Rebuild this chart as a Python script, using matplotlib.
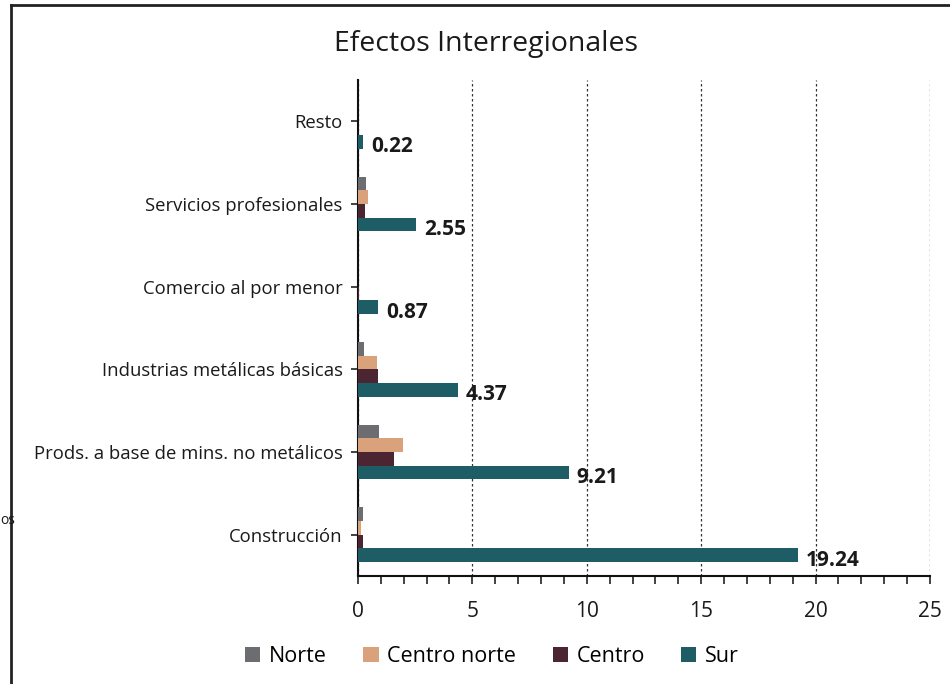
import matplotlib
matplotlib.use("Agg")
import matplotlib.pyplot as plt
from matplotlib.lines import Line2D
from matplotlib.ticker import MultipleLocator
import numpy as np

plt.rcParams['font.family'] = ['Open Sans', 'DejaVu Sans']

categories = ["Construcción", "Prods. a base de mins. no metálicos",
              "Industrias metálicas básicas", "Comercio al por menor",
              "Servicios profesionales", "Resto"]
series_names = ["Norte", "Centro norte", "Centro", "Sur"]
norte = [0.20, 0.93, 0.26, 0.0, 0.35, 0.0]
centro_norte = [0.15, 1.97, 0.84, 0.0, 0.42, 0.0]
centro = [0.20, 1.57, 0.89, 0.05, 0.30, 0.0]
sur = [19.24, 9.21, 4.37, 0.87, 2.55, 0.22]
colors = ["#6b6d70", "#d9a27a", "#4b2532", "#1e5c66"]
xticks = [0, 5, 10, 15, 20, 25]

fig = plt.figure(figsize=(9.5, 6.84), dpi=100)
ax = fig.add_axes([0.3768, 0.158, 0.6021, 0.725])

y = np.arange(len(categories))
h = 0.165
offsets = [1.5 * h, 0.5 * h, -0.5 * h, -1.5 * h]
for vals, name, col, off in zip([norte, centro_norte, centro, sur], series_names, colors, offsets):
    ax.barh(y + off, vals, height=h, color=col, label=name, zorder=3)

for yi, v in zip(y, sur):
    ax.text(v + 0.35, yi + offsets[3] - 0.06, f"{v:.2f}", va="center", ha="left",
            fontsize=15, fontweight="bold", color="#1a1a1a", zorder=4)

ax.set_ylim(-0.5, len(categories) - 0.5)
ax.set_xlim(0, 25)
ax.set_yticks(y)
ax.set_yticklabels(categories, fontsize=13.3, color="#1a1a1a")
ax.set_xticks(xticks)
ax.set_xticklabels([str(t) for t in xticks], fontsize=15, color="#1a1a1a")
ax.xaxis.set_minor_locator(MultipleLocator(1))
ax.tick_params(axis="x", which="both", direction="out", length=6, width=1.2, color="#222222", pad=12)
ax.tick_params(axis="y", direction="out", length=5, width=1.2, color="#222222", pad=6)

ax.grid(axis="x", which="major", linestyle=(0, (2, 2)), color="#333333", linewidth=0.9, zorder=0)
for s in ["top", "right"]:
    ax.spines[s].set_visible(False)
for s in ["left", "bottom"]:
    ax.spines[s].set_linewidth(1.5)
    ax.spines[s].set_color("#111111")

fig.text(0.512, 0.935, "Efectos Interregionales", ha="center", va="center", fontsize=20.5, color="#1a1a1a")

leg = fig.legend(loc="center", bbox_to_anchor=(0.518, 0.04), ncol=4, frameon=False,
                 fontsize=15.5, handlelength=0.7, handleheight=0.7, handletextpad=0.4,
                 columnspacing=1.7)

# outer frame lines
fig.add_artist(Line2D([11 / 950, 11 / 950], [0, 1 - 5 / 684], transform=fig.transFigure,
                      color="#222222", linewidth=2))
fig.add_artist(Line2D([11 / 950, 1], [1 - 5 / 684, 1 - 5 / 684], transform=fig.transFigure,
                      color="#222222", linewidth=2))
fig.text(0.5 / 950, 1 - 521 / 684, "os", ha="left", va="center", fontsize=10, color="#1a1a1a")

fig.savefig("out.png", dpi=100)
